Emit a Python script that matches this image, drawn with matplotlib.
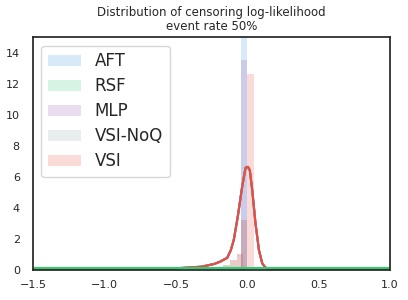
import matplotlib
matplotlib.use("Agg")
import matplotlib.pyplot as plt
import seaborn as sns

sns.set_style("white")

models = ["AFT", "RSF", "MLP", "VSI-NoQ", "VSI"]
colors = ["#3498db", "#2ecc71", "#9b59b6", "#95a5a6", "#e74c3c"]

# histogram bins (left edges) and densities per model
bin_width = 0.047
hist_left = {
    "AFT": [-0.047],
    "RSF": [-0.047],
    "MLP": [-0.047],
    "VSI-NoQ": [-0.42, -0.37, -0.32, -0.27, -0.22, -0.17, -0.12, -0.075, -0.047],
    "VSI": [-0.42, -0.37, -0.32, -0.27, -0.22, -0.17, -0.12, -0.075, -0.047, 0.0],
}
hist_height = {
    "AFT": [20.0],
    "RSF": [0.05],
    "MLP": [13.5],
    "VSI-NoQ": [0.08, 0.1, 0.12, 0.15, 0.2, 0.35, 0.62, 1.03, 3.2],
    "VSI": [0.08, 0.1, 0.12, 0.15, 0.2, 0.35, 0.62, 1.03, 3.2, 12.6],
}

# kde curves
kde_x = [-1.5, -1.0, -0.8, -0.6, -0.42, -0.32, -0.23, -0.187, -0.14, -0.115, -0.094,
         -0.066, -0.035, -0.012, 0.005, 0.018, 0.035, 0.058, 0.082, 0.105, 0.125, 0.14, 0.16, 0.2, 0.5, 1.0]
kde_aft = [0.0, 0.0, 0.01, 0.05, 0.15, 0.22, 0.4, 0.56, 0.8, 1.3, 1.98,
           3.5, 5.45, 6.55, 6.6, 6.4, 5.1, 2.95, 1.25, 0.42, 0.18, 0.1, 0.02, 0.0, 0.0, 0.0]
kde_mlp = [0.0, 0.0, 0.01, 0.05, 0.15, 0.21, 0.39, 0.55, 0.79, 1.28, 1.95,
           3.45, 5.4, 6.57, 6.62, 6.42, 5.14, 2.98, 1.27, 0.43, 0.18, 0.1, 0.02, 0.0, 0.0, 0.0]
kde_noq = [0.0, 0.0, 0.01, 0.05, 0.15, 0.21, 0.39, 0.55, 0.78, 1.28, 1.95,
           3.44, 5.37, 6.58, 6.64, 6.44, 5.15, 3.0, 1.28, 0.43, 0.18, 0.1, 0.02, 0.0, 0.0, 0.0]
kde_vsi = [0.0, 0.0, 0.01, 0.05, 0.16, 0.21, 0.39, 0.54, 0.78, 1.27, 1.94,
           3.44, 5.37, 6.6, 6.66, 6.45, 5.16, 3.0, 1.29, 0.43, 0.18, 0.1, 0.02, 0.0, 0.0, 0.0]
kde_rsf_x = [-1.5, -1.0, -0.5, 0.0, 0.5, 1.0]
kde_rsf = [0.12, 0.12, 0.12, 0.12, 0.12, 0.12]

kde_curves = {
    "AFT": (kde_x, kde_aft),
    "RSF": (kde_rsf_x, kde_rsf),
    "MLP": (kde_x, kde_mlp),
    "VSI-NoQ": (kde_x, kde_noq),
    "VSI": (kde_x, kde_vsi),
}

fig = plt.figure(figsize=(4.08, 3.0), dpi=100)
ax = fig.add_axes([0.081, 0.1, 0.875, 0.776])

for name, c in zip(models, colors):
    ax.bar(hist_left[name], hist_height[name], width=bin_width, align="edge",
           color=c, alpha=0.2, linewidth=0, label=name)
for name, c in zip(models, colors):
    if name == "RSF":
        continue
    xs, ys = kde_curves[name]
    ax.plot(xs, ys, color=c, lw=1.5)
# RSF line sits on top along the bottom
ax.plot(kde_curves["RSF"][0], kde_curves["RSF"][1], color=colors[1], lw=1.5)

ax.set_xlim(-1.5, 1.0)
ax.set_ylim(0, 15)
ax.set_xticks([-1.5, -1.0, -0.5, 0.0, 0.5, 1.0])
ax.set_yticks([0, 2, 4, 6, 8, 10, 12, 14])
ax.tick_params(labelsize=8, colors="#262626")
ax.tick_params(axis="y", pad=6)
for s in ax.spines.values():
    s.set_color("#262626")
    s.set_linewidth(1.25)
ax.set_title("Distribution of censoring log-likelihood\nevent rate 50%", fontsize=8.5,
             color="#262626", pad=5, linespacing=1.1)
ax.legend(loc="upper left", fontsize=12, labelspacing=0.42)

fig.savefig("out.png", dpi=100)
